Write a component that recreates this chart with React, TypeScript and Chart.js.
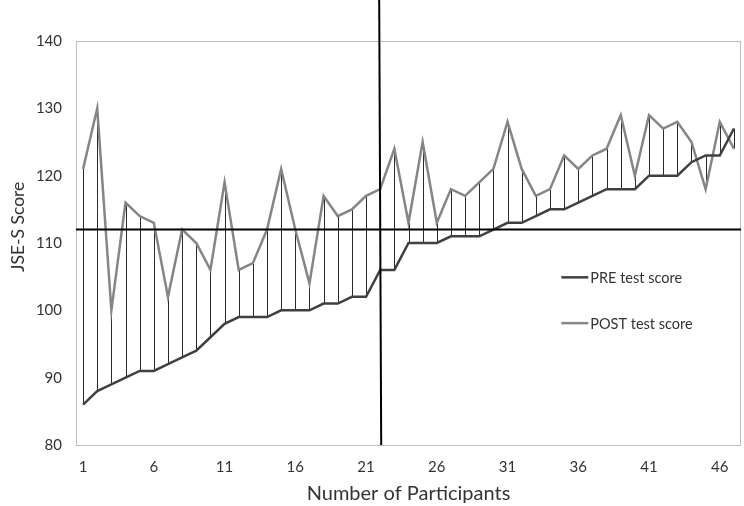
import React, { useEffect, useRef } from "react";
import { Chart, registerables } from "chart.js";

Chart.register(...registerables);

const participants: string[] = Array.from({ length: 47 }, (_, i) => String(i + 1));

const preScores: number[] = [
  86, 88, 89, 90, 91, 91, 92, 93, 94, 96,
  98, 99, 99, 99, 100, 100, 100, 101, 101, 102,
  102, 106, 106, 110, 110, 110, 111, 111, 111, 112,
  113, 113, 114, 115, 115, 116, 117, 118, 118, 118,
  120, 120, 120, 122, 123, 123, 127,
];

const postScores: number[] = [
  121, 130, 100, 116, 114, 113, 102, 112, 110, 106,
  119, 106, 107, 112, 121, 112, 104, 117, 114, 115,
  117, 118, 124, 113, 125, 113, 118, 117, 119, 121,
  128, 121, 117, 118, 123, 121, 123, 124, 129, 120,
  129, 127, 128, 125, 118, 128, 124,
];

const yTicks: number[] = [80, 90, 100, 110, 120, 130, 140];
const refScore = 112;
const refParticipant = "22";

const seriesNames = ["PRE test score", "POST test score"];
const seriesColors = ["#404040", "#858585"];
const yTitle = "JSE-S Score";
const xTitle = "Number of Participants";

const FONT = "Lato, 'Open Sans', sans-serif";

export default function App() {
  const canvasRef = useRef<HTMLCanvasElement | null>(null);

  useEffect(() => {
    document.body.style.margin = "0";
    const canvas = canvasRef.current;
    if (!canvas) return;

    const overlay = {
      id: "overlay",
      beforeDatasetsDraw(chart: any) {
        const { ctx, scales } = chart;
        const xs = scales.x;
        const ys = scales.y;
        ctx.save();
        ctx.strokeStyle = "#2a2a2a";
        ctx.lineWidth = 1;
        for (let i = 0; i < participants.length; i++) {
          const x = Math.round(xs.getPixelForValue(i)) + 0.5;
          ctx.beginPath();
          ctx.moveTo(x, ys.getPixelForValue(preScores[i]));
          ctx.lineTo(x, ys.getPixelForValue(postScores[i]));
          ctx.stroke();
        }
        ctx.restore();
      },
      afterDatasetsDraw(chart: any) {
        const { ctx, scales, chartArea } = chart;
        const xs = scales.x;
        const ys = scales.y;
        ctx.save();
        // plot border
        ctx.strokeStyle = "#bdbdbd";
        ctx.lineWidth = 1;
        ctx.strokeRect(
          Math.round(chartArea.left) + 0.5,
          Math.round(chartArea.top) + 0.5,
          Math.round(chartArea.right - chartArea.left) - 1,
          Math.round(chartArea.bottom - chartArea.top)
        );
        // horizontal reference line
        ctx.strokeStyle = "#000000";
        ctx.lineWidth = 2;
        const yRef = ys.getPixelForValue(refScore);
        ctx.beginPath();
        ctx.moveTo(chartArea.left, yRef);
        ctx.lineTo(chartArea.right, yRef);
        ctx.stroke();
        // vertical reference line
        const xRef = xs.getPixelForValue(participants.indexOf(refParticipant));
        ctx.beginPath();
        ctx.moveTo(xRef - 1, 0);
        ctx.lineTo(xRef + 1, chartArea.bottom);
        ctx.stroke();
        // legend
        const legendY = [ys.getPixelForValue(104.9), ys.getPixelForValue(98.1)];
        const lx = xs.getPixelForValue(33.8);
        ctx.font = `14.5px ${FONT}`;
        ctx.textBaseline = "middle";
        ctx.textAlign = "left";
        for (let k = 0; k < 2; k++) {
          ctx.strokeStyle = seriesColors[k];
          ctx.lineWidth = 2.5;
          ctx.beginPath();
          ctx.moveTo(lx, legendY[k]);
          ctx.lineTo(lx + 27, legendY[k]);
          ctx.stroke();
          ctx.fillStyle = "#333333";
          ctx.fillText(seriesNames[k], lx + 29, legendY[k] + 1);
        }
        // y title
        ctx.save();
        ctx.translate(18, ys.getPixelForValue(112.4));
        ctx.rotate(-Math.PI / 2);
        ctx.font = `17.5px ${FONT}`;
        ctx.fillStyle = "#333333";
        ctx.textAlign = "center";
        ctx.textBaseline = "middle";
        ctx.fillText(yTitle, 0, 0);
        ctx.restore();
        ctx.restore();
      },
    };

    const chart = new Chart(canvas, {
      type: "line",
      data: {
        labels: participants,
        datasets: [
          {
            label: seriesNames[0],
            data: preScores,
            borderColor: seriesColors[0],
            borderWidth: 2.5,
            pointRadius: 0,
            tension: 0,
            fill: false,
          },
          {
            label: seriesNames[1],
            data: postScores,
            borderColor: seriesColors[1],
            borderWidth: 2.5,
            pointRadius: 0,
            tension: 0,
            fill: false,
          },
        ],
      },
      options: {
        animation: false,
        responsive: false,
        maintainAspectRatio: false,
        layout: { padding: { top: 41, right: 3, left: 0, bottom: 0 } },
        plugins: {
          legend: { display: false },
          tooltip: { enabled: false },
        },
        scales: {
          x: {
            type: "category",
            offset: true,
            grid: { display: false },
            border: { display: false },
            ticks: {
              autoSkip: false,
              maxRotation: 0,
              color: "#333333",
              font: { family: FONT, size: 15 },
              padding: 5,
              callback: (_v: any, i: number) => (i % 5 === 0 ? participants[i] : ""),
            },
            title: {
              display: true,
              text: xTitle,
              color: "#333333",
              font: { family: FONT, size: 20 },
              padding: { top: 0, bottom: 0 },
            },
            afterFit: (s: any) => {
              s.height = 61;
            },
          },
          y: {
            min: yTicks[0],
            max: yTicks[yTicks.length - 1],
            grid: { display: false },
            border: { display: false },
            afterBuildTicks: (s: any) => {
              s.ticks = yTicks.map((v) => ({ value: v }));
            },
            ticks: {
              color: "#333333",
              font: { family: FONT, size: 15 },
              padding: 6,
            },
            afterFit: (s: any) => {
              s.width = 76;
            },
          },
        },
      },
      plugins: [overlay],
    });

    return () => {
      chart.destroy();
    };
  }, []);

  return (
    <div style={{ position: "relative", width: 744, height: 506 }}>
      <canvas ref={canvasRef} width={744} height={506} style={{ display: "block" }} />
    </div>
  );
}
